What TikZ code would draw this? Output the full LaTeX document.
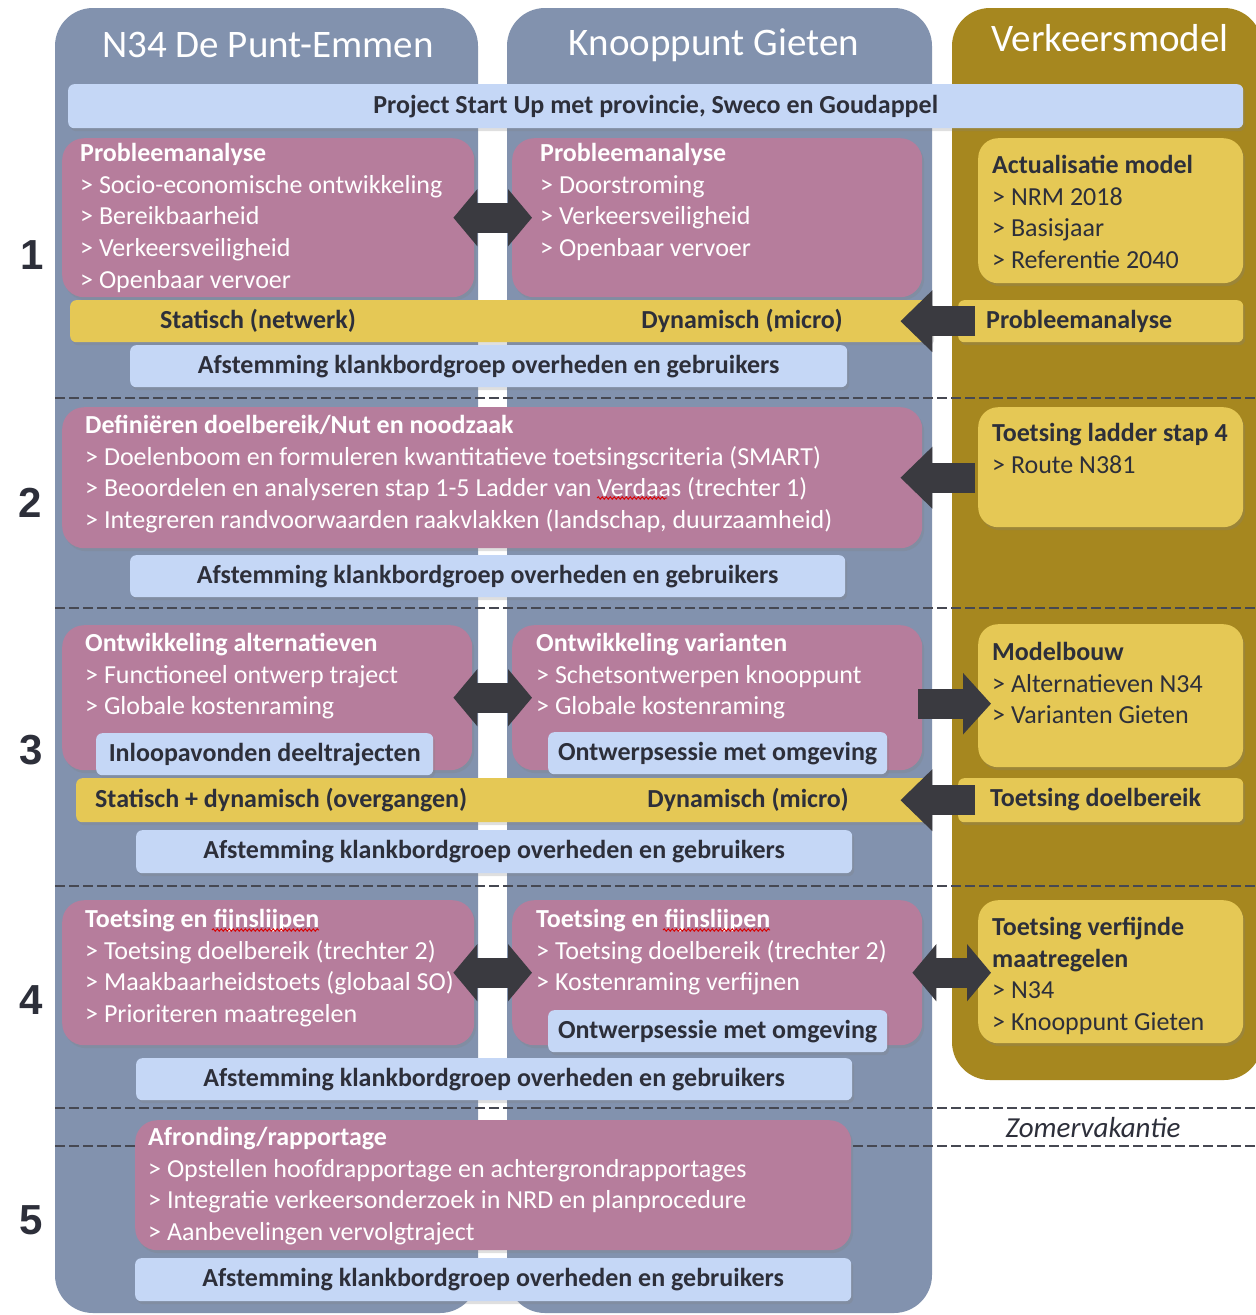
\documentclass[tikz,border=0pt]{standalone}
\usepackage{fontspec}
\setmainfont{Carlito}
\newfontfamily\numfont{Liberation Sans}
\usetikzlibrary{arrows.meta,shadows,calc,decorations.pathmorphing}

\definecolor{panelblue}{RGB}{130,146,174}
\definecolor{panelgold}{RGB}{166,135,31}
\definecolor{rowpink}{RGB}{182,125,156}
\definecolor{rowyellow}{RGB}{229,200,85}
\definecolor{barblue}{RGB}{197,215,246}
\definecolor{arrowdark}{RGB}{58,58,64}
\definecolor{inkdark}{RGB}{45,47,58}
\definecolor{dashgray}{RGB}{70,72,82}

\tikzset{
  shadebox/.style={drop shadow={shadow xshift=2pt,shadow yshift=-3pt,opacity=.25}},
  pinkpanel/.style={fill=rowpink, rounded corners=22pt, shadebox, anchor=north west, inner sep=0pt},
  yellowpanel/.style={fill=rowyellow, rounded corners=20pt, shadebox, anchor=north west, inner sep=0pt},
  bluebar/.style={fill=barblue, rounded corners=6pt, shadebox, anchor=north west, inner sep=0pt, text=inkdark, font=\bfseries\fontsize{26}{30}\selectfont},
  yellowbar/.style={fill=rowyellow, rounded corners=6pt, shadebox, anchor=north west, inner sep=0pt},
  pinktext/.style={anchor=north west, inner sep=0pt, align=left, text=white, font=\fontsize{26}{31.7}\selectfont},
  yellowtext/.style={pinktext, text=inkdark},
  bartext/.style={inner sep=0pt, text=inkdark, font=\bfseries\fontsize{26}{30}\selectfont},
  coltitle/.style={text=white, font=\fontsize{39}{44}\selectfont},
  rownum/.style={text=inkdark, font=\numfont\bfseries\fontsize{42}{48}\selectfont},
  sepline/.style={draw=dashgray, line width=2.2pt, dash pattern=on 10pt off 4pt},
  leftblock/.style={draw=arrowdark, line width=30pt, -{Triangle[length=32pt,width=60pt]}},
  rightblock/.style={draw=arrowdark, line width=30pt, -{Triangle[length=28pt,width=60pt]}},
  twinblock/.style={draw=arrowdark, line width=30pt, {Triangle[length=24pt,width=56pt]}-{Triangle[length=24pt,width=56pt]}},
  spell/.style={draw=red!85!black, line width=0.9pt, decorate, decoration={snake, amplitude=1.2pt, segment length=4pt}}
}

\begin{document}
\begin{tikzpicture}[x=1pt,y=-1pt]
	\useasboundingbox (0,0) rectangle (1256,1315);
	\fill[white] (0,0) rectangle (1256,1315);
	% columns
	\fill[panelblue, rounded corners=38pt] (55,8) rectangle (478,1313);
	\fill[panelblue, rounded corners=38pt] (507,8) rectangle (932,1313);
	\fill[panelgold, rounded corners=38pt] (952,8) rectangle (1262,1080);
	\node[coltitle] (n34title) at (268,45) {N34 De Punt-Emmen};
	\node[coltitle] (gietentitle) at (714,45) {Knooppunt Gieten};
	\node[coltitle] (modeltitle) at (1110,38) {Verkeersmodel};
	% phase borders
	\draw[sepline] (55,398) -- (1256,398);
	\draw[sepline] (55,608) -- (1256,608);
	\draw[sepline] (55,886) -- (1256,886);
	\draw[sepline] (55,1108) -- (1256,1108);
	\draw[sepline] (55,1146) -- (1256,1146);
	\node[text=inkdark, font=\itshape\fontsize{29}{34}\selectfont] (zomer) at (1093,1128) {Zomervakantie};
	% row numbers
	\node[rownum] (num1) at (32,255) {1};
	\node[rownum] (num2) at (30,503) {2};
	\node[rownum] (num3) at (31,750) {3};
	\node[rownum] (num4) at (31,1000) {4};
	\node[rownum] (num5) at (31,1220) {5};
	\node[bluebar, minimum width=1175pt, minimum height=44pt] (startup) at (68,84) {Project Start Up met provincie, Sweco en Goudappel};
	% 1
	\node[pinkpanel, minimum width=412pt, minimum height=159pt] (pa1) at (62,138) {};
	\node[pinkpanel, minimum width=410pt, minimum height=159pt] (pb1) at (512,138) {};
	\node[yellowpanel, minimum width=265pt, minimum height=145pt] (ya1) at (978,138) {};
	\node[pinktext] (pa1t) at (80,143) {\textbf{Probleemanalyse}\\> Socio-economische ontwikkeling\\> Bereikbaarheid\\> Verkeersveiligheid\\> Openbaar vervoer};
	\node[pinktext] (pb1t) at (540,143) {\textbf{Probleemanalyse}\\> Doorstroming\\> Verkeersveiligheid\\> Openbaar vervoer};
	\node[yellowtext] (ya1t) at (992,155) {\textbf{Actualisatie model}\\> NRM 2018\\> Basisjaar\\> Referentie 2040};
	\node[yellowbar, minimum width=862pt, minimum height=42pt] (statbar1) at (70,300) {};
	\node[bartext] (stat1) at (258,321) {Statisch (netwerk)};
	\node[bartext] (dyn1) at (742,321) {Dynamisch (micro)};
	\node[yellowbar, minimum width=285pt, minimum height=42pt] (probbar) at (958,300) {};
	\node[bartext, anchor=west] (prob1) at (986,321) {Probleemanalyse};
	\node[bluebar, minimum width=717pt, minimum height=42pt] (afst1) at (130,345) {Afstemming klankbordgroep overheden en gebruikers};
	\draw[twinblock] ([xshift=-21pt]pa1.east) -- ([xshift=20pt]pb1.west);
	\draw[leftblock] ([xshift=17pt]probbar.west) -- ([xshift=-32pt]statbar1.east);
	% 2
	\node[pinkpanel, minimum width=860pt, minimum height=141pt] (pdef) at (62,407) {};
	\node[yellowpanel, minimum width=265pt, minimum height=120pt] (ylad) at (978,407) {};
	\node[pinktext] (pdeft) at (85,415) {\textbf{Definiëren doelbereik/Nut en noodzaak}\\> Doelenboom en formuleren kwantitatieve toetsingscriteria (SMART)\\> Beoordelen en analyseren stap 1-5 Ladder van Verdaas (trechter 1)\\> Integreren randvoorwaarden raakvlakken (landschap, duurzaamheid)};
	\node[yellowtext] (yladt) at (992,423) {\textbf{Toetsing ladder stap 4}\\> Route N381};
	\node[bluebar, minimum width=715pt, minimum height=42pt] (afst2) at (130,555) {Afstemming klankbordgroep overheden en gebruikers};
	\draw[leftblock] ($(pdef.east -| ylad.west)+(-3,0)$) -- ([xshift=-22pt]pdef.east);
	% 3
	\node[pinkpanel, minimum width=410pt, minimum height=145pt] (pa3) at (62,625) {};
	\node[pinkpanel, minimum width=410pt, minimum height=145pt] (pb3) at (512,625) {};
	\node[yellowpanel, minimum width=265pt, minimum height=143pt] (ymod) at (978,624) {};
	\node[pinktext] (pa3t) at (85,633) {\textbf{Ontwikkeling alternatieven}\\> Functioneel ontwerp traject\\> Globale kostenraming};
	\node[pinktext] (pb3t) at (536,633) {\textbf{Ontwikkeling varianten}\\> Schetsontwerpen knooppunt\\> Globale kostenraming};
	\node[yellowtext] (ymodt) at (992,642) {\textbf{Modelbouw}\\> Alternatieven N34\\> Varianten Gieten};
	\node[bluebar, minimum width=337pt, minimum height=42pt] (inloop) at (96,733) {Inloopavonden deeltrajecten};
	\node[bluebar, minimum width=339pt, minimum height=42pt] (sessie3) at (548,732) {Ontwerpsessie met omgeving};
	\node[yellowbar, minimum width=854pt, minimum height=44pt] (statbar3) at (76,778) {};
	\node[bartext, anchor=west] (stat3) at (95,800) {Statisch + dynamisch (overgangen)};
	\node[bartext] (dyn3) at (748,800) {Dynamisch (micro)};
	\node[yellowbar, minimum width=285pt, minimum height=44pt] (toetsbar) at (958,778) {};
	\node[bartext, anchor=west] (toets3) at (990,800) {Toetsing doelbereik};
	\node[bluebar, minimum width=716pt, minimum height=43pt] (afst3) at (136,830) {Afstemming klankbordgroep overheden en gebruikers};
	\draw[twinblock] ([xshift=-19pt]pa3.east) -- ([xshift=20pt]pb3.west);
	\draw[rightblock] ($(pb3.east)+(-4,6)$) -- ($(pb3.east -| ymod.west)+(13,6)$);
	\draw[leftblock] ([xshift=17pt]toetsbar.west) -- ([xshift=-30pt]statbar3.east);
	% 4
	\node[pinkpanel, minimum width=412pt, minimum height=145pt] (pa4) at (62,900) {};
	\node[pinkpanel, minimum width=410pt, minimum height=145pt] (pb4) at (512,900) {};
	\node[yellowpanel, minimum width=265pt, minimum height=143pt] (yverf) at (978,900) {};
	\node[pinktext] (pa4t) at (85,909) {\textbf{Toetsing en fijnslijpen}\\> Toetsing doelbereik (trechter 2)\\> Maakbaarheidstoets (globaal SO)\\> Prioriteren maatregelen};
	\node[pinktext] (pb4t) at (536,909) {\textbf{Toetsing en fijnslijpen}\\> Toetsing doelbereik (trechter 2)\\> Kostenraming verfijnen};
	\node[yellowtext] (yverft) at (992,917) {\textbf{Toetsing verfijnde}\\\textbf{maatregelen}\\> N34\\> Knooppunt Gieten};
	\node[bluebar, minimum width=339pt, minimum height=42pt] (sessie4) at (548,1010) {Ontwerpsessie met omgeving};
	\node[bluebar, minimum width=716pt, minimum height=42pt] (afst4) at (136,1058) {Afstemming klankbordgroep overheden en gebruikers};
	\draw[twinblock] ([xshift=-21pt]pa4.east) -- ([xshift=20pt]pb4.west);
	\draw[twinblock] ([xshift=-10pt]pb4.east) -- ($(pb4.east -| yverf.west)+(13,0)$);
	% 5
	\node[pinkpanel, minimum width=716pt, minimum height=130pt] (pafr) at (135,1120) {};
	\node[pinktext] (pafrt) at (148,1127) {\textbf{Afronding/rapportage}\\> Opstellen hoofdrapportage en achtergrondrapportages\\> Integratie verkeersonderzoek in NRD en planprocedure\\> Aanbevelingen vervolgtraject};
	\node[bluebar, minimum width=716pt, minimum height=43pt] (afst5) at (135,1258) {Afstemming klankbordgroep overheden en gebruikers};
	% spelling marks
	\draw[spell] (597,498) -- (667,498);
	\draw[spell] (212,930) -- (319,930);
	\draw[spell] (663,930) -- (770,930);
\end{tikzpicture}
\end{document}
